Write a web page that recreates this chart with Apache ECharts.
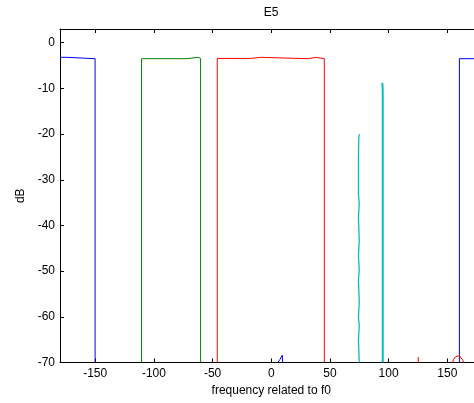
<!DOCTYPE html>
<html>
<head>
<meta charset="utf-8">
<script src="https://cdn.jsdelivr.net/npm/echarts@6/dist/echarts.min.js"></script>
<style>
  html, body { margin: 0; padding: 0; background: #fff; overflow: hidden; }
  /* the plot box runs slightly past the right edge of the window */
  #chart { width: 483px; height: 403px; }
</style>
</head>
<body>
<div id="chart"></div>
<script>
// Axis ticks
const xTicks = [-150, -100, -50, 0, 50, 100, 150];
const yTicks = [-70, -60, -50, -40, -30, -20, -10, 0];

// Channel at the far left (blue)
const blueLowFreq = [-180, -174, -172.5, -150.1, -150.1];
const blueLowDb   = [-3.2, -3.2, -3.5, -3.5, -70];

// Small blue residue near f0
const blueResFreq = [5.6, 7.5, 9.4, 9.7, 9.7];
const blueResDb   = [-70, -69.3, -68.4, -68.4, -70];

// Channel at the far right (blue)
const blueHighFreq = [160.3, 160.3, 180];
const blueHighDb   = [-70, -3.5, -3.5];

// Green channel
const greenFreq = [-110.5, -110.5, -72, -71.2, -62.2, -61.4, -60.2, -60.2];
const greenDb   = [-70, -3.5, -3.5, -3.2, -3.2, -3.45, -3.45, -70];

// Red channel around f0
const redFreq = [-46, -46, -17.5, -16.7, -9, -8.2, 31.6, 32.4, 38, 38.8, 45.2, 45.2];
const redDb   = [-70, -3.45, -3.45, -3.2, -3.2, -3.5, -3.5, -3.2, -3.2, -3.5, -3.5, -70];

// Red residues
const redTickFreq = [125.3, 125.3];
const redTickDb   = [-70, -68.8];
const redArchFreq = [154.5, 155.4, 156.8, 158.8, 160.6, 162.2, 163.2, 163.8];
const redArchDb   = [-70, -69.3, -68.8, -68.6, -68.6, -68.9, -69.5, -70];

// Cyan spurs
const cyanAFreq = [75.0, 74.6, 74.3, 74.3, 75.0, 75.0, 74.3, 74.3, 75.0, 75.0, 74.3, 74.3, 75.0, 75.0,
                   74.3, 74.3, 75.0, 75.0, 74.3, 74.3, 75.0, 75.0, 74.3, 74.3, 75.0, 75.0];
const cyanADb   = [-20, -21, -25, -33.3, -33.5, -35, -35.2, -38.3, -38.5, -43.2, -43.4, -46.7, -46.9, -49.7,
                   -49.9, -51.9, -52.1, -56.7, -56.9, -60.2, -60.4, -61.8, -62, -65.3, -65.5, -70];
const cyanBFreq = [94.6, 94.9, 95.0, 95.0];
const cyanBDb   = [-8.8, -9.6, -12, -70];

const FONT = '"Liberation Sans", Arial, Helvetica, sans-serif';

function pairs(xs, ys) {
  return xs.map((x, i) => [x, ys[i]]);
}

const traces = [
  { freq: blueLowFreq,  db: blueLowDb,  color: '#0000ff', width: 1 },
  { freq: blueResFreq,  db: blueResDb,  color: '#0000ff', width: 1 },
  { freq: blueHighFreq, db: blueHighDb, color: '#0000ff', width: 1 },
  { freq: greenFreq,    db: greenDb,    color: '#008000', width: 1 },
  { freq: redFreq,      db: redDb,      color: '#ff0000', width: 1 },
  { freq: redTickFreq,  db: redTickDb,  color: '#ff0000', width: 1 },
  { freq: redArchFreq,  db: redArchDb,  color: '#ff0000', width: 1 },
  { freq: cyanAFreq,    db: cyanADb,    color: '#00bfbf', width: 1.3 },
  { freq: cyanBFreq,    db: cyanBDb,    color: '#00bfbf', width: 2 }
];

const chart = echarts.init(document.getElementById('chart'), null, { renderer: 'canvas' });

const axisLine = { show: true, onZero: false, lineStyle: { color: '#000', width: 1 } };
const labelStyle = { color: '#000', fontSize: 12, fontFamily: FONT };

chart.setOption({
  animation: false,
  backgroundColor: '#fff',
  title: {
    text: 'E5',
    left: 271,
    top: 7,
    textAlign: 'center',
    padding: 0,
    textStyle: { color: '#000', fontSize: 12, fontWeight: 'normal', fontFamily: FONT }
  },
  grid: { left: 60, top: 29, right: 0.5, bottom: 40.5, containLabel: false },
  xAxis: [
    {
      type: 'value',
      position: 'bottom',
      min: -180,
      max: 180,
      name: 'frequency related to f0',
      nameLocation: 'middle',
      nameGap: 20,
      nameTextStyle: labelStyle,
      axisLine: axisLine,
      axisTick: { show: true, inside: true, length: 4, customValues: xTicks, lineStyle: { color: '#000' } },
      axisLabel: Object.assign({ margin: 5, customValues: xTicks }, labelStyle),
      splitLine: { show: false }
    },
    {
      type: 'value',
      position: 'top',
      min: -180,
      max: 180,
      axisLine: axisLine,
      axisTick: { show: true, inside: true, length: 4, customValues: xTicks, lineStyle: { color: '#000' } },
      axisLabel: { show: false },
      splitLine: { show: false }
    }
  ],
  yAxis: {
    type: 'value',
    min: -70,
    max: 3,
    name: 'dB',
    nameLocation: 'middle',
    nameGap: 28,
    nameTextStyle: labelStyle,
    axisLine: axisLine,
    axisTick: { show: true, inside: true, length: 4, customValues: yTicks, lineStyle: { color: '#000' } },
    axisLabel: Object.assign({ margin: 5, customValues: yTicks }, labelStyle),
    splitLine: { show: false }
  },
  series: traces.map(t => ({
    type: 'line',
    xAxisIndex: 0,
    data: pairs(t.freq, t.db),
    showSymbol: false,
    symbol: 'none',
    clip: true,
    lineStyle: { color: t.color, width: t.width },
    itemStyle: { color: t.color },
    emphasis: { disabled: true }
  }))
});
</script>
</body>
</html>
